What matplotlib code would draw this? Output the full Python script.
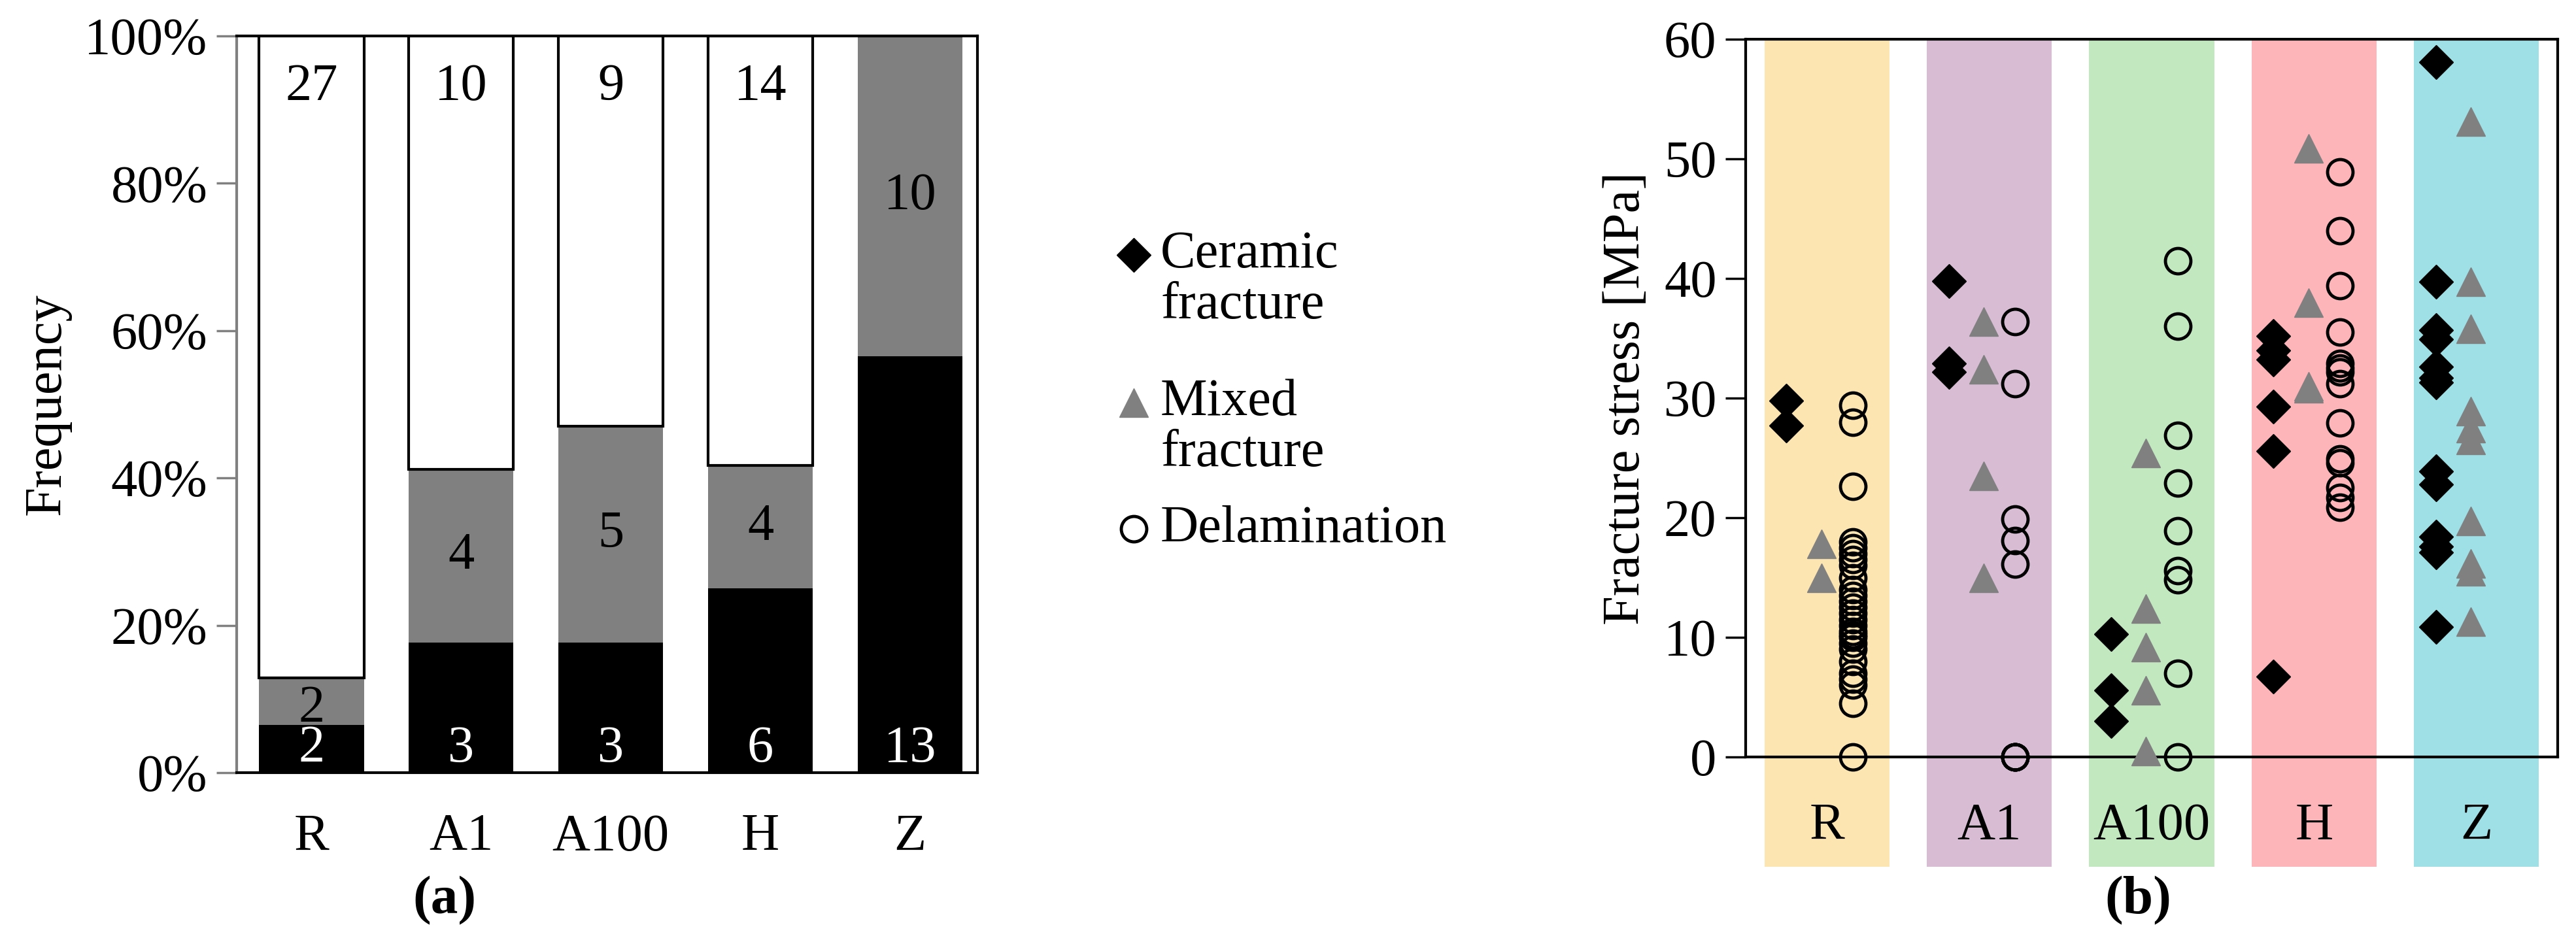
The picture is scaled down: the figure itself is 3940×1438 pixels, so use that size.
import matplotlib
matplotlib.use("Agg")
import matplotlib.pyplot as plt
import numpy as np

plt.rcParams["font.family"] = ["Liberation Serif", "DejaVu Serif"]

groups = ["R", "A1", "A100", "H", "Z"]
n_ceramic = [2, 3, 3, 6, 13]
n_mixed = [2, 4, 5, 4, 10]
n_delam = [27, 10, 9, 14, 0]
band_colors = ["#fde5b2", "#d8bcd4", "#c2e8c0", "#feb5ba", "#9ee0e6"]

# fracture stress [MPa]
ceramic = {
    "R": [29.8, 27.7],
    "A1": [39.8, 32.9, 32.2],
    "A100": [10.3, 5.6, 3.0],
    "H": [35.2, 34.0, 33.2, 29.3, 25.6, 6.7],
    "Z": [58.1, 39.7, 35.7, 34.9, 32.6, 31.7, 31.3, 23.9, 22.8, 18.4, 17.6, 17.1, 10.9],
}
mixed = {
    "R": [17.8, 15.0],
    "A1": [36.4, 32.4, 23.5, 15.0],
    "A100": [25.4, 12.4, 9.2, 5.6, 0.5],
    "H": [50.9, 38.0, 31.0, 30.8],
    "Z": [53.1, 39.7, 35.8, 28.9, 27.5, 26.5, 19.7, 16.2, 15.5, 11.3],
}
delam = {
    "R": [29.4, 28.0, 22.6, 18.0, 17.5, 17.0, 16.0, 15.0, 14.0, 13.0, 12.5, 12.0, 11.5,
          11.0, 10.5, 10.0, 9.5, 9.0, 8.0, 7.0, 6.5, 6.0, 4.5, 0.0, 16.5, 13.5, 10.2],
    "A1": [36.4, 31.2, 19.9, 18.1, 16.1, 0.0, 0.0, 0.0, 0.0, 0.0],
    "A100": [41.5, 36.0, 26.9, 22.9, 18.9, 15.6, 14.8, 7.0, 0.0],
    "H": [48.9, 44.0, 39.4, 35.5, 32.9, 32.5, 32.2, 31.2, 27.9, 24.9, 24.6, 22.5, 21.7, 20.9],
    "Z": [],
}

fig = plt.figure(figsize=(39.41, 14.38), dpi=100)
W, H = 3941, 1438
FS = 58

# ---- (a) stacked frequency bars
axa = fig.add_axes([362 / W, 1 - 1182 / H, (1495 - 362) / W, (1182 - 55) / H])
tot = np.array(n_ceramic) + np.array(n_mixed) + np.array(n_delam)
pc = np.array(n_ceramic) / tot * 100
pm = np.array(n_mixed) / tot * 100
pd_ = np.array(n_delam) / tot * 100
x = np.arange(len(groups))
bw = 0.70
axa.bar(x, pc, bw, color="black")
axa.bar(x, pm, bw, bottom=pc, color="#808080")
axa.bar(x, pd_, bw, bottom=pc + pm, color="white", edgecolor="black", linewidth=3)
for i in range(len(groups)):
    axa.text(x[i], 3.2, str(n_ceramic[i]), ha="center", va="center", color="white", fontsize=FS)
    ym = pc[i] + pm[i] / 2 if n_mixed[i] > 2 else pc[i] + pm[i] / 2 - 1
    axa.text(x[i], ym, str(n_mixed[i]), ha="center", va="center", color="black", fontsize=FS)
    if n_delam[i]:
        axa.text(x[i], 93, str(n_delam[i]), ha="center", va="center", color="black", fontsize=FS)
axa.set_xlim(-0.5, 4.45)
axa.set_ylim(0, 100)
axa.set_yticks(range(0, 101, 20))
axa.set_yticklabels([f"{v}%" for v in range(0, 101, 20)])
axa.set_xticks(x)
axa.set_xticklabels(groups)
axa.tick_params(axis="x", length=0, pad=45, labelsize=FS)
axa.tick_params(axis="y", direction="out", length=22, width=2.5, color="#808080", labelsize=FS, pad=10)
axa.spines["left"].set_color("#808080")
for s in axa.spines.values():
    s.set_linewidth(3)
axa.set_ylabel("Frequency", fontsize=FS, labelpad=15)

# ---- legend
axl = fig.add_axes([0, 0, 1, 1])
axl.set_xlim(0, W)
axl.set_ylim(H, 0)
axl.axis("off")
axl.plot([1734], [390], "D", color="black", ms=26)
axl.plot([1734], [616], "^", color="#808080", ms=32)
axl.plot([1734], [809], "o", mfc="none", mec="black", mew=3.5, ms=28)
axl.text(1775, 390, "Ceramic", fontsize=FS, va="center")
axl.text(1775, 468, "fracture", fontsize=FS, va="center")
axl.text(1775, 616, "Mixed", fontsize=FS, va="center")
axl.text(1775, 694, "fracture", fontsize=FS, va="center")
axl.text(1775, 809, "Delamination", fontsize=FS, va="center")
axl.text(680, 1378, "(a)", fontsize=FS + 2, ha="center", va="center", fontweight="bold")
axl.text(3270, 1378, "(b)", fontsize=FS + 2, ha="center", va="center", fontweight="bold")

# ---- (b) fracture stress scatter
axb = fig.add_axes([2670 / W, 1 - 1158 / H, (3912 - 2670) / W, (1158 - 60) / H])
axb.set_xlim(-0.5, 4.5)
axb.set_ylim(0, 60)
for i, g in enumerate(groups):
    axb.bar(i, 69.2, 0.77, bottom=-9.2, color=band_colors[i], clip_on=False, zorder=0)
    axb.plot([i - 0.25] * len(ceramic[g]), ceramic[g], "D", color="black", ms=26, clip_on=False, zorder=3)
    axb.plot([i - 0.035] * len(mixed[g]), mixed[g], "^", color="#808080", ms=32, clip_on=False, zorder=3)
    if delam[g]:
        axb.plot([i + 0.16] * len(delam[g]), delam[g], "o", mfc="none", mec="black", mew=3.5, ms=28,
                 clip_on=False, zorder=3)
    axb.text(i, -5.8, g, ha="center", va="center", fontsize=FS)
axb.set_xticks([])
axb.set_yticks(range(0, 61, 10))
axb.tick_params(axis="y", direction="out", length=22, width=2.5, labelsize=FS, pad=10)
for s in axb.spines.values():
    s.set_linewidth(3)
    s.set_zorder(2)
axb.set_ylabel("Fracture stress [MPa]", fontsize=FS, labelpad=15)

fig.savefig("out.png", dpi=100)
